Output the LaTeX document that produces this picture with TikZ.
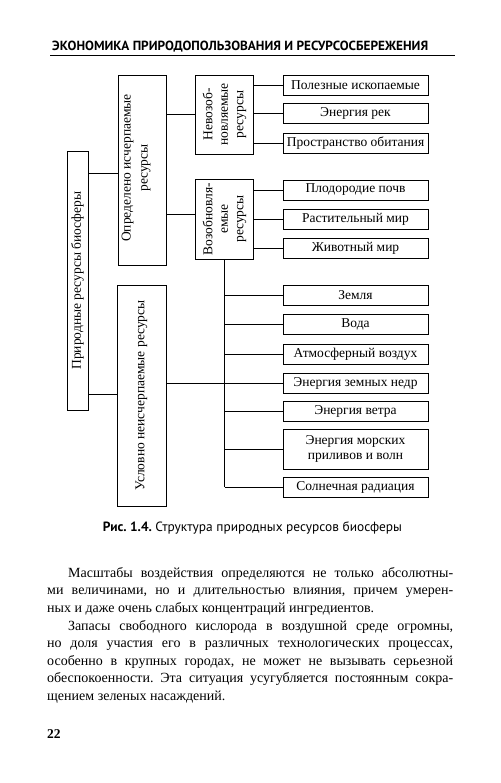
\documentclass[tikz,border=0pt]{standalone}
\usepackage{fontspec}
\setmainfont{Liberation Serif}
\newfontfamily\hdrfont{PT Sans}
\frenchspacing
\begin{document}
\begin{tikzpicture}[x=1pt,y=-1pt,
  box/.style={draw, line width=0.8pt, inner sep=1pt, font=\fontsize{13.5}{15.5}\selectfont, align=center},
  leaf/.style={box, minimum width=145pt, minimum height=20pt},
  vbox/.style={box, rotate=90},
  vtext/.style={inner sep=0pt, rotate=90, align=center, font=\fontsize{13.5}{17}\selectfont},
  link/.style={draw, line width=0.8pt},
  bodyline/.style={anchor=base west, inner sep=0pt, font=\fontsize{14}{17}\selectfont}]
\useasboundingbox (0,0) rectangle (500,783);
\fill[white] (0,0) rectangle (500,783);
% header
\node[anchor=base west, inner sep=0pt, font=\hdrfont\bfseries\fontsize{13}{15}\selectfont] (hdr) at (52,51) {\resizebox{376pt}{!}{ЭКОНОМИКА ПРИРОДОПОЛЬЗОВАНИЯ И РЕСУРСОСБЕРЕЖЕНИЯ}};
\coordinate (r1) at (50,55);
\coordinate (r2) at (455,55);
\draw[line width=0.8pt] (r1) -- (r2);
% vertical boxes
\node[vbox, minimum width=259pt, minimum height=21pt] (nat) at (77.5,280.5) {Природные ресурсы биосферы};
\node[vbox, minimum width=190pt, minimum height=48pt] (opr) at (142,170) {};
\node[vtext] (oprt) at (136,168) {Определено исчерпаемые\\ресурсы};
\node[vbox, minimum width=221pt, minimum height=49pt] (usl) at (141.5,395.5) {Условно неисчерпаемые ресурсы};
\node[vbox, minimum width=79pt, minimum height=58pt] (nev) at (224.5,114.5) {Невозоб-\\новляемые\\ресурсы};
\node[vbox, minimum width=80pt, minimum height=58pt] (voz) at (224.5,219) {Возобновля-\\емые\\ресурсы};
% leaves
\node[leaf] (pol) at (355.5,85) {Полезные ископаемые};
\node[leaf] (rek) at (355.5,113) {Энергия рек};
\node[leaf] (pro) at (355.5,143) {Пространство обитания};
\node[leaf] (plo) at (355.5,190) {Плодородие почв};
\node[leaf] (ras) at (355.5,219) {Растительный мир};
\node[leaf] (zhi) at (355.5,248) {Животный мир};
\node[leaf] (zem) at (355.5,295.5) {Земля};
\node[leaf] (vod) at (355.5,324) {Вода};
\node[leaf] (atm) at (355.5,354) {Атмосферный воздух};
\node[leaf] (ned) at (355.5,383) {Энергия земных недр};
\node[leaf] (vet) at (355.5,411.5) {Энергия ветра};
\node[leaf, minimum height=40pt] (mor) at (355.5,449) {Энергия морских\\приливов и волн};
\node[leaf] (sol) at (355.5,487) {Солнечная радиация};
% connectors
\coordinate (y173) at (0,173);
\coordinate (y394) at (0,394);
\coordinate (y114) at (0,114);
\coordinate (y214) at (0,214);
\draw[link] (nat.south |- y173) -- (opr.north |- y173);
\draw[link] (nat.south |- y394) -- (usl.north |- y394);
\draw[link] (opr.south |- y114) -- (nev.north |- y114);
\draw[link] (opr.south |- y214) -- (voz.north |- y214);
\foreach \n in {pol,rek,pro} \draw[link] (nev.south |- \n.west) -- (\n.west);
\foreach \n in {plo,ras,zhi} \draw[link] (voz.south |- \n.west) -- (\n.west);
\draw[link] (voz.west) -- (voz.west |- sol.west);
\foreach \n in {zem,vod,atm,ned,vet,mor,sol} \draw[link] (voz.west |- \n.west) -- (\n.west);
\draw[link] (usl.south |- ned.west) -- (voz.west |- ned.west);
% caption
\node[anchor=base, inner sep=0pt, font=\hdrfont\fontsize{11.5}{13}\selectfont] (cap) at (252.5,531) {\resizebox{299pt}{!}{\textbf{Рис. 1.4.} Структура природных ресурсов биосферы}};
% body text
\node[bodyline] (l1) at (68,577.3) {\makebox[385pt][s]{Масштабы воздействия определяются не только абсолютны-}};
\node[bodyline] (l2) at (47,594.8) {\makebox[406pt][s]{ми величинами, но и длительностью влияния, причем умерен-}};
\node[bodyline] (l3) at (47,612.4) {ных и даже очень слабых концентраций ингредиентов.};
\node[bodyline] (l4) at (68,630) {\makebox[385pt][s]{Запасы свободного кислорода в воздушной среде огромны,}};
\node[bodyline] (l5) at (47,647.6) {\makebox[406pt][s]{но доля участия его в различных технологических процессах,}};
\node[bodyline] (l6) at (47,665.2) {\makebox[406pt][s]{особенно в крупных городах, не может не вызывать серьезной}};
\node[bodyline] (l7) at (47,682.8) {\makebox[406pt][s]{обеспокоенности. Эта ситуация усугубляется постоянным сокра-}};
\node[bodyline] (l8) at (47,700.4) {щением зеленых насаждений.};
% page number
\node[anchor=base west, inner sep=0pt, font=\bfseries\fontsize{13.5}{15}\selectfont] (pg) at (47,738) {22};
\end{tikzpicture}
\end{document}
